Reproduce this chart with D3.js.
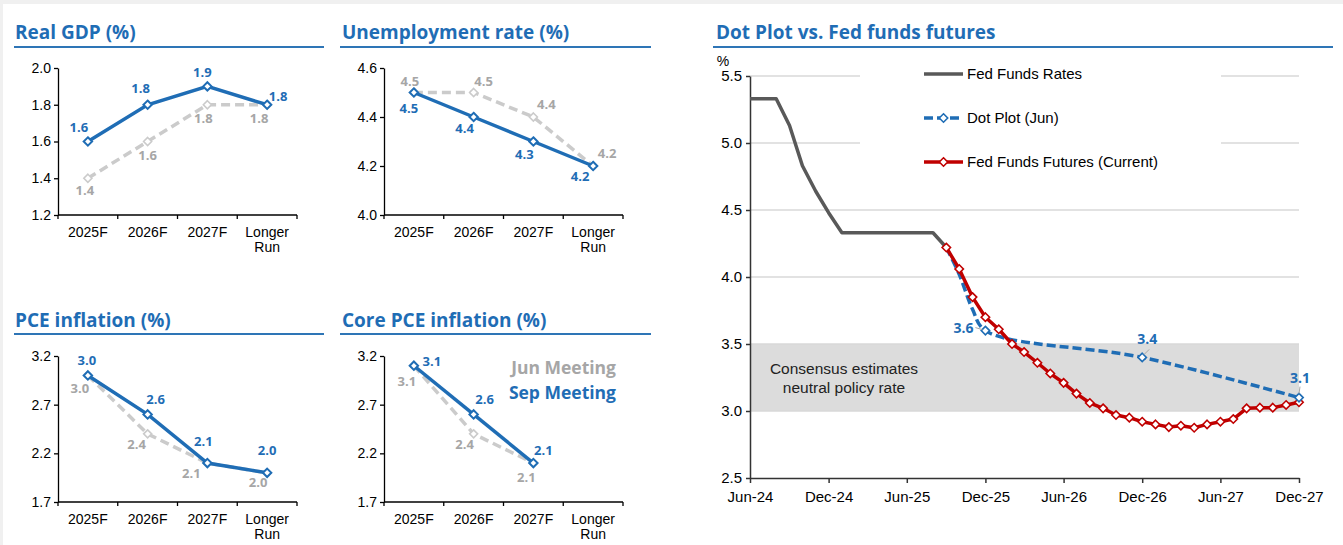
<!DOCTYPE html>
<html>
<head>
<meta charset="utf-8">
<script src="https://cdn.jsdelivr.net/npm/d3@7"></script>
<style>
  body { margin: 0; background: #f0f0f0; }
  svg { display: block; }
  .tick text { font-family: "Liberation Sans", Arial, sans-serif; fill: #000; }
</style>
</head>
<body>
<svg id="chart"></svg>
<script>
// ---- data: FOMC projections (Jun vs Sep meeting) ----
var categories = ["2025F", "2026F", "2027F", "Longer Run"];

var gdpSep = [1.6, 1.8, 1.9, 1.8];
var gdpJun = [1.4, 1.6, 1.8, 1.8];
var gdpTicks = [1.2, 1.4, 1.6, 1.8, 2.0];

var unempSep = [4.5, 4.4, 4.3, 4.2];
var unempJun = [4.5, 4.5, 4.4, 4.2];
var unempTicks = [4.0, 4.2, 4.4, 4.6];

var pceSep = [3.0, 2.6, 2.1, 2.0];
var pceJun = [3.0, 2.4, 2.1, 2.0];
var pceTicks = [1.7, 2.2, 2.7, 3.2];

var corePceSep = [3.1, 2.6, 2.1, null];
var corePceJun = [3.1, 2.4, 2.1, null];

// ---- data: policy rate path ----
var fedMonths = ["2024-06","2024-07","2024-08","2024-09","2024-10","2024-11","2024-12",
  "2025-01","2025-02","2025-03","2025-04","2025-05","2025-06","2025-07","2025-08","2025-09"];
var fedRates = [5.33, 5.33, 5.33, 5.13, 4.83, 4.64, 4.48,
  4.33, 4.33, 4.33, 4.33, 4.33, 4.33, 4.33, 4.33, 4.22];

var futuresMonths = ["2025-09","2025-10","2025-11","2025-12",
  "2026-01","2026-02","2026-03","2026-04","2026-05","2026-06","2026-07","2026-08","2026-09","2026-10","2026-11","2026-12",
  "2027-01","2027-02","2027-03","2027-04","2027-05","2027-06","2027-07","2027-08","2027-09","2027-10","2027-11","2027-12"];
var futuresRates = [4.22, 4.06, 3.85, 3.70,
  3.61, 3.50, 3.44, 3.36, 3.28, 3.21, 3.13, 3.06, 3.02, 2.97, 2.95, 2.92,
  2.90, 2.88, 2.89, 2.875, 2.90, 2.92, 2.94, 3.02, 3.025, 3.025, 3.045, 3.065];

var dotMonths = ["2025-09", "2025-10", "2025-11", "2025-12", "2026-12", "2027-12"];
var dotRates = [4.22, 4.02, 3.76, 3.6, 3.4, 3.1];
var dotLabelled = ["2025-12", "2026-12", "2027-12"];

var neutralBand = [3.0, 3.5];
var rateTicks = [2.5, 3.0, 3.5, 4.0, 4.5, 5.0, 5.5];
var dateTicks = ["2024-06","2024-12","2025-06","2025-12","2026-06","2026-12","2027-06","2027-12"];

// ---- styles ----
var BLUE = "#1f6db5", TITLE_BLUE = "#1f6db5", GREY_LINE = "#cbcbcb", GREY_TXT = "#a6a6a6";
var RED = "#c00000", DARK = "#595959";
var TITLE_FONT = '"Open Sans", sans-serif';
var AXIS_FONT = '"Liberation Sans", Arial, sans-serif';

var W = 1343, H = 545;
var svg = d3.select("#chart").attr("width", W).attr("height", H);
svg.append("rect").attr("x", 3).attr("y", 4).attr("width", W - 3).attr("height", H - 4).attr("fill", "#fff");

function diamond(r) { return "M0," + (-r) + "L" + r + ",0L0," + r + "L" + (-r) + ",0Z"; }

function title(text, x, y, ux0, ux1, uy) {
  svg.append("text").attr("x", x).attr("y", y)
    .style("font-family", TITLE_FONT).style("font-weight", 700).style("font-size", "19px")
    .attr("fill", TITLE_BLUE).text(text);
  svg.append("line").attr("x1", ux0).attr("x2", ux1).attr("y1", uy).attr("y2", uy)
    .attr("stroke", "#2e75b6").attr("stroke-width", 2);
}

var panels = [
  { name: "Real GDP (%)", sep: gdpSep, jun: gdpJun, ticks: gdpTicks, x0: 58, x1: 297, top: 68, bottom: 215,
    tx: 15, ty: 39, ux: [14, 324], uy: 47,
    sepOff: [[-9,-10],[-7,-12],[-5,-9],[11,-4]], junOff: [[-3,17],[0,18],[-4,18],[-8,18]] },
  { name: "Unemployment rate (%)", sep: unempSep, jun: unempJun, ticks: unempTicks, x0: 384, x1: 623, top: 68, bottom: 215,
    tx: 342, ty: 39, ux: [340, 651], uy: 47,
    sepOff: [[-5,20],[-9,16],[-9,17],[-13,15]], junOff: [[-4,-7],[10,-7],[13,-8],[14,-8]] },
  { name: "PCE inflation (%)", sep: pceSep, jun: pceJun, ticks: pceTicks, x0: 58, x1: 297, top: 356, bottom: 502,
    tx: 15, ty: 327, ux: [14, 324], uy: 334,
    sepOff: [[-1,-10],[8,-10],[-4,-17],[0,-18]], junOff: [[-8,18],[-11,15],[-16,15],[-9,14]] },
  { name: "Core PCE inflation (%)", sep: corePceSep, jun: corePceJun, ticks: pceTicks, x0: 384, x1: 623, top: 356, bottom: 502,
    tx: 342, ty: 327, ux: [340, 651], uy: 334,
    sepOff: [[18,0],[11,-10],[10,-8]], junOff: [[-7,20],[-9,15],[-7,19]] }
];

panels.forEach(function (p) {
  title(p.name, p.tx, p.ty, p.ux[0], p.ux[1], p.uy);

  var x = d3.scaleBand().domain(categories).range([p.x0, p.x1]).padding(0);
  var y = d3.scaleLinear().domain(d3.extent(p.ticks)).range([p.bottom, p.top]);
  var g = svg.append("g");

  // y axis
  g.append("g").attr("transform", "translate(" + p.x0 + ",0)")
    .call(d3.axisLeft(y).tickValues(p.ticks).tickFormat(d3.format(".1f")).tickSize(4).tickPadding(3).tickSizeOuter(0))
    .call(function (a) {
      a.select(".domain").attr("stroke", "#000").attr("stroke-width", 1.3);
      a.selectAll(".tick line").attr("stroke", "#000").attr("stroke-width", 1.3);
      a.selectAll(".tick text").style("font-size", "14px");
    });

  // x axis with ticks on category boundaries
  g.append("line").attr("x1", p.x0).attr("x2", p.x1).attr("y1", p.bottom).attr("y2", p.bottom)
    .attr("stroke", "#000").attr("stroke-width", 1.3);
  var bounds = categories.map(function (c) { return x(c); }).concat([x(categories[3]) + x.bandwidth()]);
  g.selectAll(".bt").data(bounds).enter().append("line")
    .attr("x1", function (d) { return d; }).attr("x2", function (d) { return d; })
    .attr("y1", p.bottom).attr("y2", p.bottom + 4).attr("stroke", "#000").attr("stroke-width", 1.3);
  categories.forEach(function (c) {
    var t = g.append("text").attr("x", x(c) + x.bandwidth() / 2).attr("y", p.bottom + 22)
      .attr("text-anchor", "middle").style("font-family", AXIS_FONT).style("font-size", "14px");
    c.split(" ").forEach(function (w, i) {
      t.append("tspan").attr("x", x(c) + x.bandwidth() / 2).attr("dy", i ? 14.5 : 0).text(w);
    });
  });

  function pts(vals) {
    return vals.map(function (v, i) { return { c: categories[i], v: v, i: i }; })
      .filter(function (d) { return d.v != null; });
  }
  var line = d3.line().x(function (d) { return x(d.c) + x.bandwidth() / 2; }).y(function (d) { return y(d.v); });

  // Jun meeting (grey dashed)
  var jun = pts(p.jun);
  g.append("path").datum(jun).attr("d", line).attr("fill", "none")
    .attr("stroke", GREY_LINE).attr("stroke-width", 3.5).attr("stroke-dasharray", "9,5");
  g.selectAll(".jm").data(jun).enter().append("path").attr("d", diamond(4))
    .attr("transform", function (d) { return "translate(" + (x(d.c) + x.bandwidth() / 2) + "," + y(d.v) + ")"; })
    .attr("fill", "#fff").attr("stroke", GREY_LINE).attr("stroke-width", 1.6);

  // Sep meeting (blue solid)
  var sep = pts(p.sep);
  g.append("path").datum(sep).attr("d", line).attr("fill", "none")
    .attr("stroke", BLUE).attr("stroke-width", 3.5);
  g.selectAll(".sm").data(sep).enter().append("path").attr("d", diamond(4.2))
    .attr("transform", function (d) { return "translate(" + (x(d.c) + x.bandwidth() / 2) + "," + y(d.v) + ")"; })
    .attr("fill", "#fff").attr("stroke", BLUE).attr("stroke-width", 2);

  function labels(data, off, color) {
    g.selectAll(null).data(data).enter().append("text")
      .attr("x", function (d) { return x(d.c) + x.bandwidth() / 2 + off[d.i][0]; })
      .attr("y", function (d) { return y(d.v) + off[d.i][1]; })
      .attr("text-anchor", "middle").style("font-family", TITLE_FONT).style("font-weight", 700)
      .style("font-size", "13px").attr("fill", color).text(function (d) { return d3.format(".1f")(d.v); });
  }
  labels(jun, p.junOff, GREY_TXT);
  labels(sep, p.sepOff, BLUE);
});

// meeting legend
svg.append("text").attr("x", 616).attr("y", 374).attr("text-anchor", "end")
  .style("font-family", TITLE_FONT).style("font-weight", 700).style("font-size", "17.5px")
  .attr("fill", GREY_TXT).text("Jun Meeting");
svg.append("text").attr("x", 616).attr("y", 399).attr("text-anchor", "end")
  .style("font-family", TITLE_FONT).style("font-weight", 700).style("font-size", "17.5px")
  .attr("fill", BLUE).text("Sep Meeting");

// ---- right chart: dot plot vs futures ----
title("Dot Plot vs. Fed funds futures", 716, 39, 713, 1333, 47);

var parse = d3.timeParse("%Y-%m");
var xr = d3.scaleTime().domain([parse("2024-06"), parse("2027-12")]).range([750, 1299]);
var yr = d3.scaleLinear().domain([2.5, 5.5]).range([478, 76]);
var rg = svg.append("g");

// neutral rate band
rg.append("rect").attr("x", xr.range()[0]).attr("width", xr.range()[1] - xr.range()[0])
  .attr("y", yr(neutralBand[1])).attr("height", yr(neutralBand[0]) - yr(neutralBand[1]))
  .attr("fill", "#dcdcdc");

// gridlines
rg.selectAll(".grid").data(rateTicks.slice(1)).enter().append("line")
  .attr("x1", xr.range()[0]).attr("x2", xr.range()[1])
  .attr("y1", function (d) { return yr(d); }).attr("y2", function (d) { return yr(d); })
  .attr("stroke", "#d9d9d9").attr("stroke-width", 1.5);

// legend box hides gridlines behind it
rg.append("rect").attr("x", 860).attr("y", 58).attr("width", 361).attr("height", 120).attr("fill", "#fff");

rg.append("text").attr("x", 844).attr("y", 374)
  .attr("text-anchor", "middle").style("font-family", AXIS_FONT).style("font-size", "15.5px")
  .attr("fill", "#222").text("Consensus estimates");
rg.append("text").attr("x", 844).attr("y", 393)
  .attr("text-anchor", "middle").style("font-family", AXIS_FONT).style("font-size", "15.5px")
  .attr("fill", "#222").text("neutral policy rate");

// axes
rg.append("g").attr("transform", "translate(" + xr.range()[0] + ",0)")
  .call(d3.axisLeft(yr).tickValues(rateTicks).tickFormat(d3.format(".1f")).tickSize(4).tickPadding(4).tickSizeOuter(0))
  .call(function (a) {
    a.select(".domain").attr("stroke", "#333").attr("stroke-width", 1.5);
    a.selectAll(".tick line").attr("stroke", "#333").attr("stroke-width", 1.5);
    a.selectAll(".tick text").style("font-size", "15px");
  });
rg.append("g").attr("transform", "translate(0," + yr.range()[0] + ")")
  .call(d3.axisBottom(xr).tickValues(dateTicks.map(parse)).tickFormat(d3.timeFormat("%b-%y"))
    .tickSize(5).tickPadding(8).tickSizeOuter(0))
  .call(function (a) {
    a.select(".domain").attr("stroke", "#333").attr("stroke-width", 1.5);
    a.selectAll(".tick line").attr("stroke", "#333").attr("stroke-width", 1.5);
    a.selectAll(".tick text").style("font-size", "15px");
  });
rg.append("text").attr("x", 723).attr("y", 66).attr("text-anchor", "middle")
  .style("font-family", AXIS_FONT).style("font-size", "14px").text("%");

// Fed funds rates
var fedData = fedMonths.map(function (m, i) { return { d: parse(m), v: fedRates[i] }; });
var lineR = d3.line().x(function (d) { return xr(d.d); }).y(function (d) { return yr(d.v); });
rg.append("path").datum(fedData).attr("d", lineR).attr("fill", "none")
  .attr("stroke", DARK).attr("stroke-width", 3.5).attr("stroke-linejoin", "round");

// dot plot (Jun)
var dotData = dotMonths.map(function (m, i) { return { m: m, d: parse(m), v: dotRates[i] }; });
rg.append("path").datum(dotData).attr("d", lineR.curve(d3.curveCatmullRom.alpha(0.5))).attr("fill", "none")
  .attr("stroke", BLUE).attr("stroke-width", 3.5).attr("stroke-dasharray", "9,4");
lineR.curve(d3.curveLinear);

// futures
var futData = futuresMonths.map(function (m, i) { return { d: parse(m), v: futuresRates[i] }; });
rg.append("path").datum(futData).attr("d", lineR).attr("fill", "none")
  .attr("stroke", RED).attr("stroke-width", 3.5).attr("stroke-linejoin", "round");
rg.selectAll(".fm").data(futData).enter().append("path").attr("d", diamond(4.2))
  .attr("transform", function (d) { return "translate(" + xr(d.d) + "," + yr(d.v) + ")"; })
  .attr("fill", "#fff").attr("stroke", RED).attr("stroke-width", 1.6);

// dot plot markers + labels
var dotLab = dotData.filter(function (d) { return dotLabelled.indexOf(d.m) >= 0; });
var dotOff = [[-22, 2], [5, -13], [1, -15]];
var leadOff = [[[-10, -3], [-3, -1]], [[7, -8], [2, -3]], [[1, -11], [0, -4]]];
rg.selectAll(".dm").data(dotLab).enter().append("path").attr("d", diamond(4.2))
  .attr("transform", function (d) { return "translate(" + xr(d.d) + "," + yr(d.v) + ")"; })
  .attr("fill", "#fff").attr("stroke", BLUE).attr("stroke-width", 1.6);
dotLab.forEach(function (d, i) {
  var px = xr(d.d), py = yr(d.v);
  rg.append("line").attr("x1", px + leadOff[i][0][0]).attr("y1", py + leadOff[i][0][1])
    .attr("x2", px + leadOff[i][1][0]).attr("y2", py + leadOff[i][1][1])
    .attr("stroke", "#a6a6a6").attr("stroke-width", 1);
  rg.append("text").attr("x", px + dotOff[i][0]).attr("y", py + dotOff[i][1]).attr("text-anchor", "middle")
    .style("font-family", TITLE_FONT).style("font-weight", 700).style("font-size", "14px")
    .attr("fill", BLUE).text(d3.format(".1f")(d.v));
});

// legend
var legend = [
  { label: "Fed Funds Rates", color: DARK, dash: null, marker: false, y: 74 },
  { label: "Dot Plot (Jun)", color: BLUE, dash: "9,4", marker: true, y: 118 },
  { label: "Fed Funds Futures (Current)", color: RED, dash: null, marker: true, y: 162 }
];
legend.forEach(function (l) {
  rg.append("line").attr("x1", 924).attr("x2", 963).attr("y1", l.y).attr("y2", l.y)
    .attr("stroke", l.color).attr("stroke-width", 3.5).attr("stroke-dasharray", l.dash);
  if (l.marker) {
    rg.append("path").attr("d", diamond(4.2)).attr("transform", "translate(943.5," + l.y + ")")
      .attr("fill", "#fff").attr("stroke", l.color).attr("stroke-width", 1.6);
  }
  rg.append("text").attr("x", 967).attr("y", l.y + 5)
    .style("font-family", AXIS_FONT).style("font-size", "15px").attr("fill", "#000").text(l.label);
});
</script>
</body>
</html>
